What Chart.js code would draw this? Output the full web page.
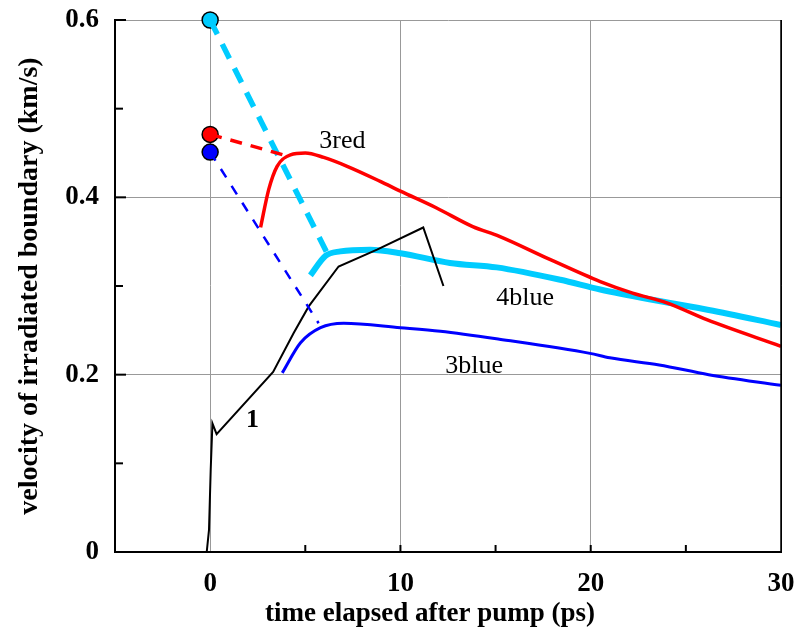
<!DOCTYPE html>
<html><head><meta charset="utf-8">
<script src="https://cdn.jsdelivr.net/npm/chart.js@4.4.0/dist/chart.umd.min.js"></script>
<style>html,body{margin:0;padding:0;background:#fff}#wrap{width:796px;height:633px}</style>
</head><body><div id="wrap"><canvas id="c" width="796" height="633"></canvas></div>
<script>
// ---- data ----
const xTickValues = [0, 10, 20, 30];
const yTickValues = [0, 0.2, 0.4, 0.6];

const blackTime = [-0.18, -0.06, 0.03, 0.12, 0.34, 3.31, 4.39, 5.18, 6.75, 8.77, 11.2, 12.26];
const blackVel  = [0, 0.025, 0.093, 0.145, 0.133, 0.203, 0.247, 0.277, 0.322, 0.341, 0.366, 0.300];

const redTime = [2.65, 3.08, 3.52, 4.22, 5.0, 5.97, 7.2, 8.94, 10, 11.9, 13.8, 15.2, 17.85, 20.5, 22.2, 24, 26.1, 30];
const redVel  = [0.366, 0.409, 0.435, 0.448, 0.450, 0.445, 0.435, 0.418, 0.407, 0.388, 0.367, 0.356, 0.330, 0.305, 0.292, 0.281, 0.262, 0.232];
const redDashTime = [0, 4.0];
const redDashVel  = [0.471, 0.447];

const cyanTime = [5.27, 6.06, 6.84, 8.4, 10, 12.6, 15.06, 18.4, 20.5, 23.6, 26.2, 30];
const cyanVel  = [0.312, 0.334, 0.339, 0.341, 0.337, 0.326, 0.321, 0.307, 0.296, 0.283, 0.273, 0.256];
const cyanDashTime = [0, 6.15];
const cyanDashVel  = [0.6, 0.337];

const blueTime = [3.79, 4.75, 5.8, 7.02, 10, 12.1, 15.2, 19.96, 21, 23.6, 26.2, 30];
const blueVel  = [0.202, 0.236, 0.253, 0.258, 0.253, 0.249, 0.240, 0.224, 0.219, 0.211, 0.200, 0.188];
const blueDashTime = [0, 5.7];
const blueDashVel  = [0.451, 0.258];

const markerTime = [0, 0, 0];
const markerVel  = [0.6, 0.471, 0.451];
const markerColors = ['#00CCFF', '#FF0000', '#0000FF'];

const labelText = ['3red', '4blue', '3blue', '1'];
const labelTime = [6.95, 16.55, 13.87, 2.23];
const labelVel  = [0.463, 0.286, 0.210, 0.148];
const labelBold = [false, false, false, true];

const xTitle = 'time elapsed after pump (ps)';
const yTitle = 'velocity of irradiated boundary (km/s)';

function pts(xs, ys){ return xs.map((x,i)=>({x:x, y:ys[i]})); }

const serif = '"Liberation Serif", "Times New Roman", serif';

const CYAN = '#00CCFF', RED = '#FF0000', BLUE = '#0000FF';

const decor = {
  id: 'decor',
  afterDatasetsDraw(chart){
    const ctx = chart.ctx, xs = chart.scales.x, ys = chart.scales.y, a = chart.chartArea;
    ctx.save();
    // right border
    ctx.strokeStyle = '#000'; ctx.lineWidth = 1.5;
    ctx.beginPath(); ctx.moveTo(a.right, a.top); ctx.lineTo(a.right, a.bottom+1); ctx.stroke();
    // inward ticks
    ctx.lineWidth = 2;
    [0.1,0.2,0.3,0.4,0.5,0.6].forEach(v=>{
      const y = ys.getPixelForValue(v);
      const major = Math.round(v*10) % 2 === 0;
      ctx.beginPath(); ctx.moveTo(a.left, y); ctx.lineTo(a.left + (major?11:8), y); ctx.stroke();
    });
    [5,10,15,20,25].forEach(v=>{
      const x = xs.getPixelForValue(v);
      ctx.beginPath(); ctx.moveTo(x, a.bottom); ctx.lineTo(x, a.bottom - 7); ctx.stroke();
    });
    // text labels
    ctx.fillStyle = '#000'; ctx.textAlign = 'center'; ctx.textBaseline = 'middle';
    labelText.forEach((t,i)=>{
      ctx.font = (labelBold[i]?'bold ':'') + '26px ' + serif;
      ctx.fillText(t, xs.getPixelForValue(labelTime[i]), ys.getPixelForValue(labelVel[i]));
    });
    // x axis title (offset left of plot centre, as in the reference)
    ctx.font = 'bold 27px ' + serif;
    ctx.fillText(xTitle, a.left + (a.right - a.left) * 0.473, 614);
    ctx.restore();
  }
};

new Chart(document.getElementById('c'), {
  type: 'scatter',
  data: { datasets: [
    { data: pts(blueDashTime, blueDashVel), showLine:true, borderColor:BLUE, borderWidth:2.5, borderDash:[10,10], pointRadius:0, tension:0 },
    { data: pts(blueTime, blueVel), showLine:true, borderColor:BLUE, borderWidth:3, pointRadius:0, cubicInterpolationMode:'monotone' },
    { data: pts(blackTime, blackVel), showLine:true, borderColor:'#000', borderWidth:2, pointRadius:0, tension:0 },
    { data: pts(redTime, redVel), showLine:true, borderColor:RED, borderWidth:3.5, pointRadius:0, cubicInterpolationMode:'monotone' },
    { data: pts(redDashTime, redDashVel), showLine:true, borderColor:RED, borderWidth:3.5, borderDash:[12,9], pointRadius:0, tension:0 },
    { data: pts(cyanTime, cyanVel), showLine:true, borderColor:CYAN, borderWidth:6, pointRadius:0, cubicInterpolationMode:'monotone' },
    { data: pts(cyanDashTime, cyanDashVel), showLine:true, borderColor:CYAN, borderWidth:5.5, borderDash:[16,11], pointRadius:0, tension:0 },
    { data: pts(markerTime, markerVel), showLine:false, clip:false, pointRadius:8, pointBackgroundColor:markerColors, pointBorderColor:'#000', pointBorderWidth:1.5 }
  ]},
  options: {
    responsive:false, animation:false, devicePixelRatio:1,
    layout:{ padding:{ top:20, right:15, left:0, bottom:0 } },
    plugins:{ legend:{display:false}, tooltip:{enabled:false} },
    scales:{
      x:{ type:'linear', min:-5, max:30,
        afterFit(s){ s.height = 81; s.paddingLeft = 0; s.paddingRight = 0; },
        border:{ display:true, color:'#000', width:2 },
        grid:{ drawTicks:false, lineWidth:1,
          color(c){ const v=c.tick.value; if(v===30) return '#000'; return (v===0||v===10||v===20)?'#999':'rgba(0,0,0,0)'; } },
        ticks:{ stepSize:5, padding:16, color:'#000', maxRotation:0, autoSkip:false,
          font:{ family:serif, size:27, weight:'bold' },
          callback(v){ return (v>=0 && v%10===0) ? String(v) : ''; } },
        title:{ display:false }
      },
      y:{ type:'linear', min:0, max:0.6,
        afterFit(s){ s.width = 115; s.paddingTop = 0; s.paddingBottom = 0; },
        border:{ display:true, color:'#000', width:2 },
        grid:{ drawTicks:false, lineWidth:1,
          color(c){ const k=Math.round(c.tick.value*10); return (k===2||k===4||k===6)?'#999':'rgba(0,0,0,0)'; } },
        ticks:{ stepSize:0.1, padding:16, color:'#000', autoSkip:false,
          font:{ family:serif, size:27, weight:'bold' },
          callback(v){ const k=Math.round(v*10); if(k%2!==0) return ''; return k===0?'0':(k/10).toFixed(1); } },
        title:{ display:true, text:yTitle, color:'#000',
          font:{ family:serif, size:28, weight:'bold' }, padding:{top:13,bottom:0} }
      }
    }
  },
  plugins:[decor]
});
</script></body></html>
